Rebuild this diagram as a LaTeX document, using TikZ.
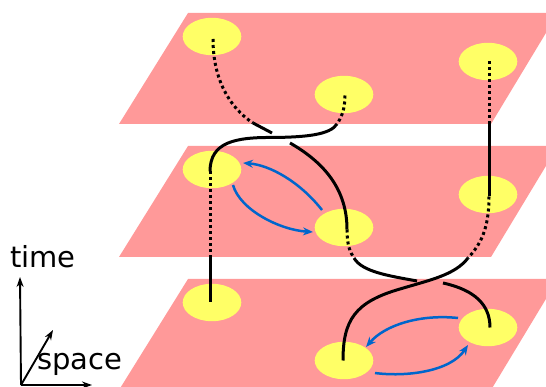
\documentclass[tikz,border=0pt]{standalone}
\usepackage{fontspec}
\setmainfont{DejaVu Sans}
\usetikzlibrary{shapes.geometric,arrows.meta}
\definecolor{planec}{RGB}{255,153,153}
\definecolor{spotc}{RGB}{255,255,102}
\definecolor{arrc}{RGB}{0,102,204}
\begin{document}
\begin{tikzpicture}[x=1pt,y=-1pt,
  planef/.style={fill=planec},
  spot/.style={ellipse,fill=spotc,minimum width=58.6pt,minimum height=37.4pt,inner sep=0pt},
  wl/.style={line width=3pt},
  hid/.style={line width=3pt,dash pattern=on 3pt off 3pt},
  flow/.style={draw=arrc,line width=2.5pt,-{Stealth[length=10pt,width=8pt]}},
  ax/.style={line width=1.9pt,-{Stealth[length=10pt,width=7pt]}},
  lbl/.style={font=\fontsize{29}{31}\selectfont,inner sep=0pt,anchor=base west}]
\useasboundingbox (0,0) rectangle (546,387);
\clip (0,0) rectangle (546,387);
% planes
\foreach \t in {13,146,279}
  \fill[planef] (188,\t) -- (558,\t) -- (491,\t+111) -- (119,\t+111) -- cycle;
% spots
\node[spot] (tl) at (212,36.5) {};
\node[spot] (tm) at (344,94.5) {};
\node[spot] (tr) at (488,61.5) {};
\node[spot] (ml) at (212,169.5) {};
\node[spot] (mm) at (344,227.5) {};
\node[spot] (mr) at (488,194.5) {};
\node[spot] (bl) at (212,302.5) {};
\node[spot] (bm) at (344,360.5) {};
\node[spot] (br) at (488,327.5) {};
% worldline A: tl -> mm -> br
\draw[hid] ([xshift=1pt,yshift=-2.5pt]tl.center) .. controls (213,80) and (230,108) .. (253,123);
\draw[wl] (253,123) -- (272,133);
\draw[wl] (290,143) .. controls (325,163) and (347,190) .. ([xshift=3pt,yshift=-2pt]mm.center);
\draw[hid] ([xshift=3pt,yshift=-2pt]mm.center) .. controls (347,245) and (350,252) .. (354,258);
\draw[wl] (354,258) .. controls (362,272) and (390,276) .. (417,281);
\draw[wl] (443,283) .. controls (475,290) and (490,305) .. ([xshift=2pt]br.center);
% worldline B: tm -> ml -> bl
\draw[hid] ([xshift=1pt,yshift=-1pt]tm.center) .. controls (345,110) and (341,118) .. (337,124);
\draw[wl] (337,124) .. controls (330,135) and (305,137) .. (275,137.5)
   .. controls (235,137) and (210,142) .. ([xshift=-2pt,yshift=-2pt]ml.center);
\draw[hid] ([xshift=-2pt,yshift=-2pt]ml.center) -- (210,258);
\draw[wl] (210,258) -- ([xshift=-2pt]bl.center);
% worldline C: tr -> mr -> bm
\draw[hid] ([xshift=1pt]tr.center) -- (489,123);
\draw[wl] (489,123) -- ([xshift=1pt,yshift=-2pt]mr.center);
\draw[hid] ([xshift=1pt,yshift=-2pt]mr.center) .. controls (489,230) and (480,245) .. (468,258);
\draw[wl] (468,258) .. controls (455,275) and (430,280) .. (400,289)
   .. controls (355,302) and (343,320) .. ([xshift=-1pt]bm.center);
% exchanges
\draw[flow] (322,210) .. controls (300,182) and (270,165) .. (243,163);
\draw[flow] (233,185) .. controls (240,210) and (280,230) .. (313,232);
\draw[flow] (458,318) .. controls (420,314) and (385,325) .. (366,347);
\draw[flow] (375,373) .. controls (405,377) and (450,372) .. (468,345);
% axes
\coordinate (o) at (21,385);
\coordinate (tt) at (20,277);
\coordinate (st) at (92,385);
\coordinate (dt) at (53,330);
\draw[ax] (o) -- (tt);
\draw[ax] (o) -- (st);
\draw[ax] (o) -- (dt);
\node[lbl] (time) at (10,268) {time};
\node[lbl] (space) at (37,369) {space};
\end{tikzpicture}
\end{document}
